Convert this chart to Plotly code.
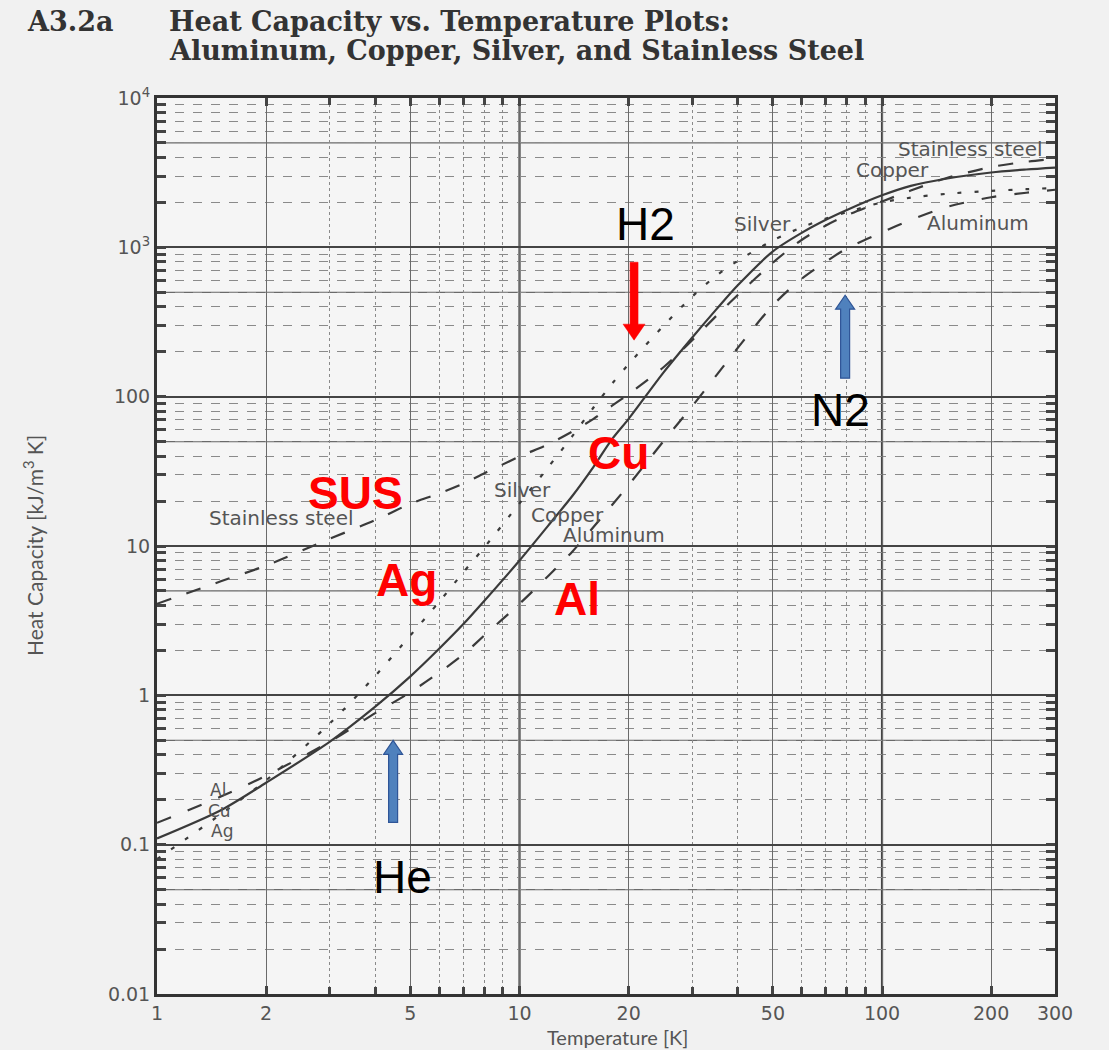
import math
import plotly.graph_objects as go

# Temperature samples [K]
temperature = [1, 1.5, 2, 3, 4, 5, 6, 7, 8, 10, 12, 14, 16, 18, 20, 25, 30, 35, 40,
               50, 60, 70, 80, 100, 120, 150, 200, 250, 300]

# Volumetric heat capacity [kJ/m^3 K]
copper = [0.11, 0.17, 0.26, 0.49, 0.84, 1.34, 2.05, 3.0, 4.3, 8.0, 13.7, 21.7, 33.9, 51.9,
          71, 146, 250, 387, 557, 940, 1250, 1530, 1780, 2230, 2580, 2880, 3170, 3320, 3420]
silver = [0.08, 0.16, 0.27, 0.65, 1.35, 2.52, 4.22, 6.67, 9.8, 19.3, 33.7, 54.6, 84.6, 122,
          165, 300, 470, 650, 812, 1113, 1360, 1560, 1720, 2000, 2150, 2280, 2390, 2450, 2500]
aluminum = [0.14, 0.21, 0.29, 0.49, 0.76, 1.05, 1.42, 1.88, 2.52, 4.1, 6.3, 9.2, 13.4, 18.8,
            25.6, 50.6, 86.8, 140, 212, 410, 615, 800, 985, 1260, 1525, 1855, 2166, 2320, 2430]
stainless = [4.1, 5.8, 7.4, 11.2, 14.9, 19.2, 22.5, 26.2, 30.7, 39.7, 48, 58.5, 71, 87,
             104, 158, 240, 350, 480, 790, 1120, 1400, 1640, 2030, 2400, 2900, 3450, 3740, 3920]

# Axis ticks
x_ticks = [1, 2, 5, 10, 20, 50, 100, 200, 300]
x_tick_text = ["1", "2", "5", "10", "20", "50", "100", "200", "300"]
x_minor = [3, 4, 6, 7, 8, 9, 30, 40, 60, 70, 80, 90]
x_decades = [10, 100]

y_decades = [0.01, 0.1, 1, 10, 100, 1000, 10000]
y_decade_text = ["0.01", "0.1", "1", "10", "100", "10<sup>3</sup>", "10<sup>4</sup>"]
y_fives = [0.05, 0.5, 5, 50, 500, 5000]
y_minor = [m * d for d in [0.01, 0.1, 1, 10, 100, 1000] for m in (2, 3, 4, 5, 6, 7, 8, 9)]

# Cryogen boiling points marked with arrows: (label, T, tail C, tip C, colour)
cryogens = [
    ("He", 4.48, 0.141, 0.50, "blue"),
    ("H2", 20.7, 795, 239, "red"),
    ("N2", 79.1, 133, 478, "blue"),
]

W, H = 898, 896
X_MAX = math.log10(300)
Y_MIN, Y_MAX = -2, 4


def paper_x(t):
    return math.log10(t) / X_MAX


def paper_y(c):
    return (math.log10(c) - Y_MIN) / (Y_MAX - Y_MIN)


fig = go.Figure()

line_color = "#3a3a3a"
series = [
    ("Stainless steel", stainless, "15px,16px"),
    ("Aluminum", aluminum, "15px,18px"),
    ("Silver", silver, "4px,13px"),
    ("Copper", copper, "solid"),
]
for name, vals, dash in series:
    fig.add_trace(go.Scatter(
        x=temperature, y=vals, mode="lines", name=name,
        line=dict(color=line_color, width=2.2, dash=dash, shape="spline", smoothing=0.8),
        hoverinfo="x+y+name",
    ))

tick_font = dict(family="DejaVu Sans", size=19, color="#555")

fig.update_xaxes(
    type="log", range=[0, X_MAX],
    tickvals=x_ticks, ticktext=x_tick_text, tickfont=tick_font,
    ticks="inside", ticklen=8, tickwidth=2.5, tickcolor="#444",
    showline=True, linecolor="#333", linewidth=3, mirror="allticks",
    showgrid=True, gridcolor="#6a6a6a", gridwidth=1.2,
    minor=dict(tickvals=x_minor, ticks="inside", ticklen=7, tickwidth=2.5, tickcolor="#444",
               showgrid=True, gridcolor="#8a8a8a", gridwidth=1, griddash="dot"),
    zeroline=False,
)
fig.update_yaxes(
    type="log", range=[Y_MIN, Y_MAX],
    tickvals=y_decades, ticktext=y_decade_text, tickfont=tick_font,
    ticks="inside", ticklen=9, tickwidth=2.5, tickcolor="#444",
    showline=True, linecolor="#333", linewidth=3, mirror="allticks",
    showgrid=True, gridcolor="#444", gridwidth=2.2,
    minor=dict(tickvals=y_minor, ticks="inside", ticklen=9, tickwidth=2.5, tickcolor="#444",
               showgrid=True, gridcolor="#8a8a8a", gridwidth=1, griddash="dash"),
    zeroline=False,
)

shapes = []
# heavier decade lines on the temperature axis
for t in x_decades:
    shapes.append(dict(type="line", xref="paper", yref="paper", x0=paper_x(t), x1=paper_x(t),
                       y0=0, y1=1, line=dict(color="#444", width=2.2), layer="between"))
# solid half-decade lines on the heat capacity axis
for c in y_fives:
    shapes.append(dict(type="line", xref="paper", yref="paper", x0=0, x1=1,
                       y0=paper_y(c), y1=paper_y(c), line=dict(color="#6a6a6a", width=1.2),
                       layer="between"))


def block_arrow(t, c_tail, c_tip, shaft_px, head_px, head_len_px):
    x = paper_x(t)
    y0, y1 = paper_y(c_tail), paper_y(c_tip)
    sgn = 1 if y1 > y0 else -1
    hw = shaft_px / 2 / W
    hh = head_px / 2 / W
    yn = y1 - sgn * head_len_px / H
    pts = [(x - hw, y0), (x - hw, yn), (x - hh, yn), (x, y1), (x + hh, yn), (x + hw, yn), (x + hw, y0)]
    return "M " + " L ".join(f"{a:.5f},{b:.5f}" for a, b in pts) + " Z"


for label, t, c_tail, c_tip, col in cryogens:
    if col == "red":
        shapes.append(dict(type="path", xref="paper", yref="paper",
                           path=block_arrow(t, c_tail, c_tip, 8, 22, 16),
                           fillcolor="#ff0000", line=dict(color="#ff0000", width=0.5)))
    else:
        shapes.append(dict(type="path", xref="paper", yref="paper",
                           path=block_arrow(t, c_tail, c_tip, 9, 19, 14),
                           fillcolor="#4f81bd", line=dict(color="#2f5597", width=1.2)))

annotations = []


def add_text(text, t, c, size, color, family, bold=False, anchor="center"):
    annotations.append(dict(
        text=f"<b>{text}</b>" if bold else text,
        x=math.log10(t), y=math.log10(c), xref="x", yref="y",
        showarrow=False, xanchor=anchor, yanchor="middle",
        font=dict(family=family, size=size, color=color),
    ))


gray = "#555"
sans = "DejaVu Sans"
# curve labels
add_text("Stainless steel", 175, 4540, 20, gray, sans)
add_text("Copper", 107, 3283, 20, gray, sans)
add_text("Silver", 46.7, 1429, 20, gray, sans)
add_text("Aluminum", 184, 1449, 20, gray, sans)
add_text("Silver", 10.2, 23.6, 20, gray, sans)
add_text("Copper", 13.6, 16.1, 20, gray, sans)
add_text("Aluminum", 18.2, 11.8, 20, gray, sans)
add_text("Stainless steel", 2.21, 15.3, 20, gray, sans)
add_text("Al", 1.47, 0.231, 17, gray, sans)
add_text("Cu", 1.49, 0.167, 17, gray, sans)
add_text("Ag", 1.51, 0.123, 17, gray, sans)

# material tags
arial = "Liberation Sans, Arial"
add_text("SUS", 3.52, 22.5, 46, "#ff0000", arial, bold=True)
add_text("Ag", 4.89, 5.89, 46, "#ff0000", arial, bold=True)
add_text("Cu", 18.8, 41.8, 46, "#ff0000", arial, bold=True)
add_text("Al", 14.4, 4.4, 46, "#ff0000", arial, bold=True)

# cryogen names
add_text("H2", 22.2, 1429, 46, "#000", arial)
add_text("N2", 76.6, 81, 46, "#000", arial)
add_text("He", 4.77, 0.061, 46, "#000", arial)

# axis titles
annotations.append(dict(text="Temperature [K]", xref="paper", yref="paper",
                        x=(617 - 157) / W, y=(994 - 1037) / H, showarrow=False,
                        xanchor="center", yanchor="middle",
                        font=dict(family="Lato", size=20, color="#555")))
annotations.append(dict(text="Heat Capacity [kJ/m<sup>3</sup> K]", xref="paper", yref="paper",
                        x=(33 - 157) / W, y=0.5, showarrow=False, textangle=-90,
                        xanchor="center", yanchor="middle",
                        font=dict(family="Lato", size=21, color="#555")))

# page heading
serif = "DejaVu Serif"
head_font = dict(family=serif, size=27, color="#333")
annotations.append(dict(text="<b>A3.2a</b>", xref="paper", yref="paper",
                        x=(25 - 157) / W, y=(994 - 22) / H, showarrow=False,
                        xanchor="left", yanchor="middle", font=head_font))
annotations.append(dict(text="<b>Heat Capacity vs. Temperature Plots:</b>", xref="paper", yref="paper",
                        x=(167 - 157) / W, y=(994 - 22) / H, showarrow=False,
                        xanchor="left", yanchor="middle", font=head_font))
annotations.append(dict(text="<b>Aluminum, Copper, Silver, and Stainless Steel</b>", xref="paper",
                        yref="paper", x=(167 - 157) / W, y=(994 - 51) / H, showarrow=False,
                        xanchor="left", yanchor="middle", font=head_font))

fig.update_layout(
    width=1109, height=1050,
    margin=dict(l=157, r=54, t=98, b=56),
    paper_bgcolor="#f1f1f1", plot_bgcolor="#f5f5f5",
    showlegend=False,
    shapes=shapes, annotations=annotations,
)

fig.write_html("out.html")
